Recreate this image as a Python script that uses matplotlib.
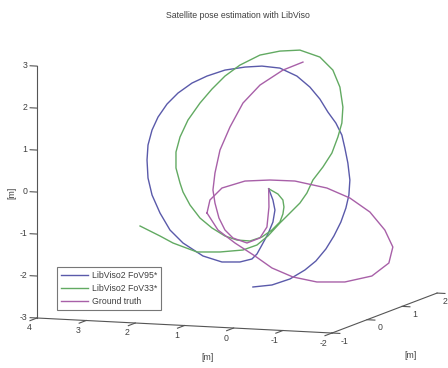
import numpy as np
import matplotlib
matplotlib.use('Agg')
import matplotlib.pyplot as plt
from mpl_toolkits.mplot3d import proj3d

plt.rcParams['font.family'] = ['Liberation Sans', 'DejaVu Sans']

W, H = 448, 368
FS = 6.3

title = "Satellite pose estimation with LibViso"
series_names = ["LibViso2 FoV95*", "LibViso2 FoV33*", "Ground truth"]
x_ticks = [4, 3, 2, 1, 0, -1, -2]
y_ticks = [-1, 0, 1, 2]
z_ticks = [-3, -2, -1, 0, 1, 2, 3]
x_lim = (4, -2)
y_lim = (-1, 2)
z_lim = (-3, 3)

# LibViso2 FoV95*
blue_x = [0.0, 0.626, 0.585, 0.626, 0.728, 0.850, 0.951, 1.053, 1.297, 1.663, 2.049, 2.455, 2.720,
          2.923, 3.085, 3.167, 3.187, 3.167, 3.085, 2.963, 2.780, 2.557, 2.272, 1.967, 1.602, 1.195,
          0.850, 0.484, 0.138, -0.126, -0.329, -0.492, -0.654, -0.776, -0.837, -0.898, -0.939, -0.919,
          -0.858, -0.756, -0.614, -0.451, -0.248, -0.024, 0.280, 0.646, 1.033]
blue_y = [0.0] + [1.0] * 46
blue_z = [0.0, -0.623, -0.859, -1.147, -1.439, -1.708, -1.928, -2.053, -2.139, -2.161, -2.041, -1.756,
          -1.462, -1.069, -0.650, -0.250, 0.177, 0.535, 0.897, 1.214, 1.535, 1.810, 2.065, 2.250, 2.414,
          2.510, 2.554, 2.528, 2.358, 2.112, 1.839, 1.539, 1.287, 1.008, 0.702, 0.349, -0.054, -0.412,
          -0.725, -1.065, -1.406, -1.725, -2.023, -2.251, -2.483, -2.648, -2.719]

# LibViso2 FoV33*
green_x = [0.0, 0.524, 0.423, 0.402, 0.423, 0.484, 0.646, 0.850, 1.093, 1.358, 1.602, 1.866, 2.110,
           2.313, 2.455, 2.516, 2.598, 2.598, 2.516, 2.354, 2.110, 1.866, 1.602, 1.297, 0.890, 0.484,
           0.077, -0.329, -0.593, -0.736, -0.797, -0.776, -0.695, -0.573, -0.390, -0.187, -0.065, 0.077,
           0.280, 0.484, 0.728, 0.951, 1.236, 1.703, 2.171, 2.659, 2.923, 3.329]
green_y = [0.0] + [1.0] * 47
green_z = [0.0, -0.474, -0.611, -0.776, -0.944, -1.138, -1.338, -1.517, -1.627, -1.619, -1.538, -1.363,
           -1.140, -0.842, -0.541, -0.331, 0.022, 0.403, 0.765, 1.179, 1.598, 1.946, 2.271, 2.551, 2.814,
           2.933, 2.981, 2.839, 2.545, 2.149, 1.676, 1.294, 0.956, 0.567, 0.223, -0.098, -0.415, -0.662,
           -0.912, -1.162, -1.486, -1.714, -1.850, -1.925, -1.953, -1.768, -1.617, -1.403]

# Ground truth: hook and arc from the start point
gt_arc_x = [0.0, 0.707, 0.748, 0.890, 1.154, 1.439, 1.602, 1.724, 1.805, 1.846, 1.805, 1.703, 1.500,
            1.236, 0.890, 0.423, 0.016]
gt_arc_y = [0.0] + [1.0] * 16
gt_arc_z = [0.0, -0.795, -1.273, -1.543, -1.678, -1.576, -1.395, -1.117, -0.765, -0.457, -0.050, 0.503,
            1.063, 1.650, 2.099, 2.484, 2.699]
# Ground truth: loop
gt_loop_x = [1.967, 1.907, 1.663, 1.195, 0.687, 0.179, -0.472, -0.939, -1.346, -1.650, -1.813, -1.732,
             -1.386, -0.837, -0.268, 0.220, 0.646, 0.992, 1.398, 1.744, 1.967]
gt_loop_y = [1.0] * 21
gt_loop_z = [-1.012, -0.699, -0.399, -0.205, -0.150, -0.144, -0.272, -0.482, -0.791, -1.202, -1.597, -1.983,
             -2.313, -2.488, -2.522, -2.432, -2.243, -1.978, -1.693, -1.404, -1.012]

c_blue = '#5a5aaa'
c_green = '#62aa62'
c_purple = '#a860a8'
c_axis = '#555555'
c_text = '#404040'

fig = plt.figure(figsize=(W / 100, H / 100), dpi=100)
S0 = 360
ax = fig.add_axes([0, 0, S0 / W, S0 / H], projection='3d', proj_type='ortho')
ax.set_box_aspect((314.3, 305.9, 254.5))
ax.view_init(elev=8.0, azim=-69.9)
ax.set_axis_off()

lb, = ax.plot(blue_x, blue_y, blue_z, color=c_blue, lw=1.0)
lg, = ax.plot(green_x, green_y, green_z, color=c_green, lw=1.0)
lp, = ax.plot(gt_loop_x, gt_loop_y, gt_loop_z, color=c_purple, lw=1.0)
ax.plot(gt_arc_x, gt_arc_y, gt_arc_z, color=c_purple, lw=1.0)

ax.set_xlim(*x_lim)
ax.set_ylim(*y_lim)
ax.set_zlim(*z_lim)

x0, x1 = x_lim
y0, y1 = y_lim
z0, z1 = z_lim
# axis lines and tick marks
ax.plot([x0, x1], [y0, y0], [z0, z0], color=c_axis, lw=0.8)
ax.plot([x1, x1], [y0, y1], [z0, z0], color=c_axis, lw=0.8)
ax.plot([x0, x0], [y0, y0], [z0, z1], color=c_axis, lw=0.8)
for v in x_ticks:
    ax.plot([v, v], [y0, y0 - 0.2], [z0, z0], color=c_axis, lw=0.8)
for v in y_ticks:
    ax.plot([x1, x1 - 0.16], [v, v], [z0, z0], color=c_axis, lw=0.8)
for v in z_ticks:
    ax.plot([x0, x0 + 0.14], [y0, y0], [v, v], color=c_axis, lw=0.8)

# fit the projected box to the target frame
M = ax.get_proj()
def disp(x, y, z):
    u, v, _ = proj3d.proj_transform(x, y, z, M)
    return np.array(ax.transData.transform((u, v)))
pO = disp(x0, y0, z0)
pC = disp(x1, y0, z0)
tO = np.array([37.0, H - 318.0])
tC = np.array([332.0, H - 333.0])
k = np.linalg.norm(tC - tO) / np.linalg.norm(pC - pO)
S1 = S0 * k
left = tO[0] - k * pO[0]
bottom = tO[1] - k * pO[1]
ax.set_position([left / W, bottom / H, S1 / W, S1 / H])

# tick labels, placed at the projected data positions
def label_at(x, y, z, s, **kw):
    p = disp(x, y, z)
    if kw.get('ha') == 'center' and p[0] > W - 4:
        p[0] = W - 1
        kw['ha'] = 'right'
    fig.text(p[0] / W, p[1] / H, s, fontsize=FS, color=c_text, **kw)

for v in x_ticks:
    label_at(v, y0 - 0.23, z0 - 0.165, str(v), ha='center', va='center')
for v in y_ticks:
    label_at(x1 - 0.26, v, z0 - 0.18, str(v), ha='center', va='center')
for v in z_ticks:
    label_at(x0 + 0.2, y0, v, str(v), ha='right', va='center')

fig.text(238 / W, 1 - 15 / H, title, ha='center', va='center', fontsize=FS, color=c_text)
fig.text(12 / W, 1 - 193 / H, '[m]', rotation=90, ha='center', va='center', fontsize=FS, color=c_text)
fig.text(207 / W, 1 - 357 / H, '[m]', ha='center', va='center', fontsize=FS, color=c_text)
fig.text(410 / W, 1 - 355 / H, '[m]', ha='center', va='center', fontsize=FS, color=c_text)

leg = fig.legend([lb, lg, lp], series_names, loc='lower left',
                 bbox_to_anchor=(57 / W, 58 / H), borderaxespad=0, fontsize=FS,
                 fancybox=False, frameon=True, handlelength=3.1, handletextpad=0.4,
                 labelspacing=0.45, borderpad=0.45)
leg.get_frame().set_edgecolor(c_axis)
leg.get_frame().set_linewidth(0.8)
for t in leg.get_texts():
    t.set_color(c_text)

fig.savefig('out.png', dpi=100)
